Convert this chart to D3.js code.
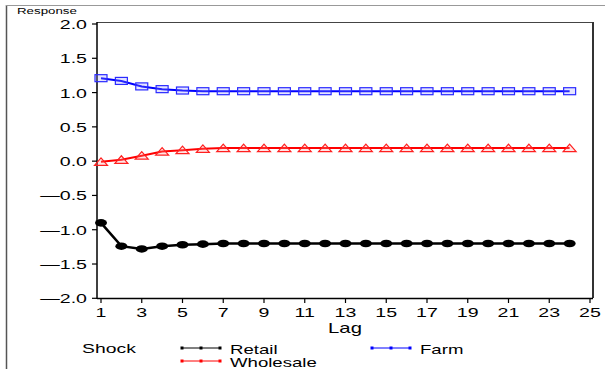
<!DOCTYPE html>
<html>
<head>
<meta charset="utf-8">
<script src="https://cdn.jsdelivr.net/npm/d3@7"></script>
<style>
  body { margin: 0; background: #fff; }
  text { font-family: "Liberation Sans", Arial, sans-serif; fill: #000; }
</style>
</head>
<body>
<div id="chart"></div>
<script>
const lags = d3.range(1, 25);
const retail = [-0.90, -1.24, -1.28, -1.24, -1.22, -1.21, -1.20, -1.20, -1.20, -1.20, -1.20, -1.20,
                -1.20, -1.20, -1.20, -1.20, -1.20, -1.20, -1.20, -1.20, -1.20, -1.20, -1.20, -1.20];
const wholesale = [-0.01, 0.02, 0.08, 0.14, 0.16, 0.18, 0.19, 0.19, 0.19, 0.19, 0.19, 0.19,
                   0.19, 0.19, 0.19, 0.19, 0.19, 0.19, 0.19, 0.19, 0.19, 0.19, 0.19, 0.19];
const farm = [1.21, 1.17, 1.09, 1.05, 1.03, 1.02, 1.02, 1.02, 1.02, 1.02, 1.02, 1.02,
              1.02, 1.02, 1.02, 1.02, 1.02, 1.02, 1.02, 1.02, 1.02, 1.02, 1.02, 1.02];
const xTicks = d3.range(1, 26, 2);
const yTicks = [-2, -1.5, -1, -0.5, 0, 0.5, 1, 1.5, 2];
const seriesNames = ["Retail", "Wholesale", "Farm"];

const width = 605, height = 369,
    margin = ({ top: 22, right: 12, bottom: 71, left: 97 });

const sx = 1.45; // the picture's text is stretched sideways

let svg = d3.select("#chart")
    .append("svg")
    .attr("width", width)
    .attr("height", height);

// outer frame lines
svg.append("line").attr("x1", 6.5).attr("x2", 6.5).attr("y1", 5).attr("y2", height)
    .attr("stroke", "#555").attr("stroke-width", 1.5);
svg.append("line").attr("x1", 6).attr("x2", width).attr("y1", 5.5).attr("y2", 5.5)
    .attr("stroke", "#999").attr("stroke-width", 1.2);

// lag 1 sits at ~101 and 25 at ~590
let x = d3.scaleLinear()
    .domain([1 - 4 / 20.37, 25 + 3 / 20.37])
    .range([margin.left, width - margin.right]);

let y = d3.scaleLinear()
    .domain([-2, 2])
    .range([298.3, 24]);

function stretched(sel, px, py, s, anchor, str, size) {
    let g = sel.append("g").attr("transform", `translate(${px},${py}) scale(${s},1)`);
    g.append("text").attr("text-anchor", anchor).style("font-size", size + "px").text(str);
    return g;
}

// plot box
svg.append("line").attr("x1", margin.left).attr("x2", width - margin.right)
    .attr("y1", margin.top + 0.5).attr("y2", margin.top + 0.5).attr("stroke", "#444").attr("stroke-width", 1);
svg.append("line").attr("x1", width - margin.right).attr("x2", width - margin.right)
    .attr("y1", margin.top).attr("y2", 298).attr("stroke", "#333").attr("stroke-width", 2);

// y axis
svg.append("line").attr("x1", margin.left).attr("x2", margin.left)
    .attr("y1", margin.top).attr("y2", 299).attr("stroke", "#000").attr("stroke-width", 1.5);
svg.append("g").selectAll("line").data(yTicks).join("line")
    .attr("x1", margin.left - 5).attr("x2", margin.left)
    .attr("y1", d => y(d)).attr("y2", d => y(d))
    .attr("stroke", "#000").attr("stroke-width", 1.2);
yTicks.forEach(d => {
    let lab = d < 0 ? "\u2014" + d3.format(".1f")(-d) : d3.format(".1f")(d);
    stretched(svg, margin.left - 10, y(d) + 5, sx, "end", lab, 13.5);
});

// x axis
svg.append("line").attr("x1", margin.left).attr("x2", width - margin.right)
    .attr("y1", 298.5).attr("y2", 298.5).attr("stroke", "#000").attr("stroke-width", 1.5);
svg.append("g").selectAll("line").data(xTicks).join("line")
    .attr("x1", d => x(d)).attr("x2", d => x(d))
    .attr("y1", 299).attr("y2", 303)
    .attr("stroke", "#000").attr("stroke-width", 1.2);
xTicks.forEach(d => stretched(svg, x(d), 317, sx, "middle", String(d), 13.5));

stretched(svg, 345, 333, sx, "middle", "Lag", 14);
stretched(svg, 17, 14, 1.4, "start", "Response", 9.5);

// series
let line = d3.line().x((d, i) => x(lags[i])).y(d => y(d));

svg.append("path").datum(farm).attr("d", line)
    .attr("fill", "none").attr("stroke", "#0000ff").attr("stroke-width", 2);
svg.append("g").selectAll("rect").data(farm).join("rect")
    .attr("x", (d, i) => x(lags[i]) - 6).attr("y", d => y(d) - 3.5)
    .attr("width", 12).attr("height", 7)
    .attr("fill", "rgba(150,150,255,0.25)").attr("stroke", "#2a2aff").attr("stroke-width", 1.2);

svg.append("path").datum(wholesale).attr("d", line)
    .attr("fill", "none").attr("stroke", "#ff0000").attr("stroke-width", 2);
svg.append("g").selectAll("path.tri").data(wholesale).join("path")
    .attr("class", "tri")
    .attr("d", (d, i) => {
        let cx = x(lags[i]), cy = y(d);
        return `M${cx - 6.5},${cy + 3.5}L${cx},${cy - 4}L${cx + 6.5},${cy + 3.5}Z`;
    })
    .attr("fill", "rgba(255,150,150,0.25)").attr("stroke", "#ff2020").attr("stroke-width", 1.2);

svg.append("path").datum(retail).attr("d", line)
    .attr("fill", "none").attr("stroke", "#000").attr("stroke-width", 2.5);
svg.append("g").selectAll("ellipse").data(retail).join("ellipse")
    .attr("cx", (d, i) => x(lags[i])).attr("cy", d => y(d))
    .attr("rx", 6).attr("ry", 3.8).attr("fill", "#000");

// legend
stretched(svg, 82, 353, 1.55, "start", "Shock", 12.5);
const legendColors = ["#000", "#ff0000", "#0000ff"];
const legendPos = [[182, 348], [182, 361], [372, 348]];
seriesNames.forEach((name, k) => {
    let [x0, ly] = legendPos[k];
    svg.append("line").attr("x1", x0).attr("x2", x0 + 38).attr("y1", ly).attr("y2", ly)
        .attr("stroke", legendColors[k]).attr("stroke-width", 1);
    [0, 19, 38].forEach(o => {
        svg.append("rect").attr("x", x0 + o - 1.5).attr("y", ly - 1.5)
            .attr("width", 3).attr("height", 3).attr("fill", legendColors[k]);
    });
    stretched(svg, x0 + 48, ly + 5.5, 1.55, "start", name, 12);
});
</script>
</body>
</html>
